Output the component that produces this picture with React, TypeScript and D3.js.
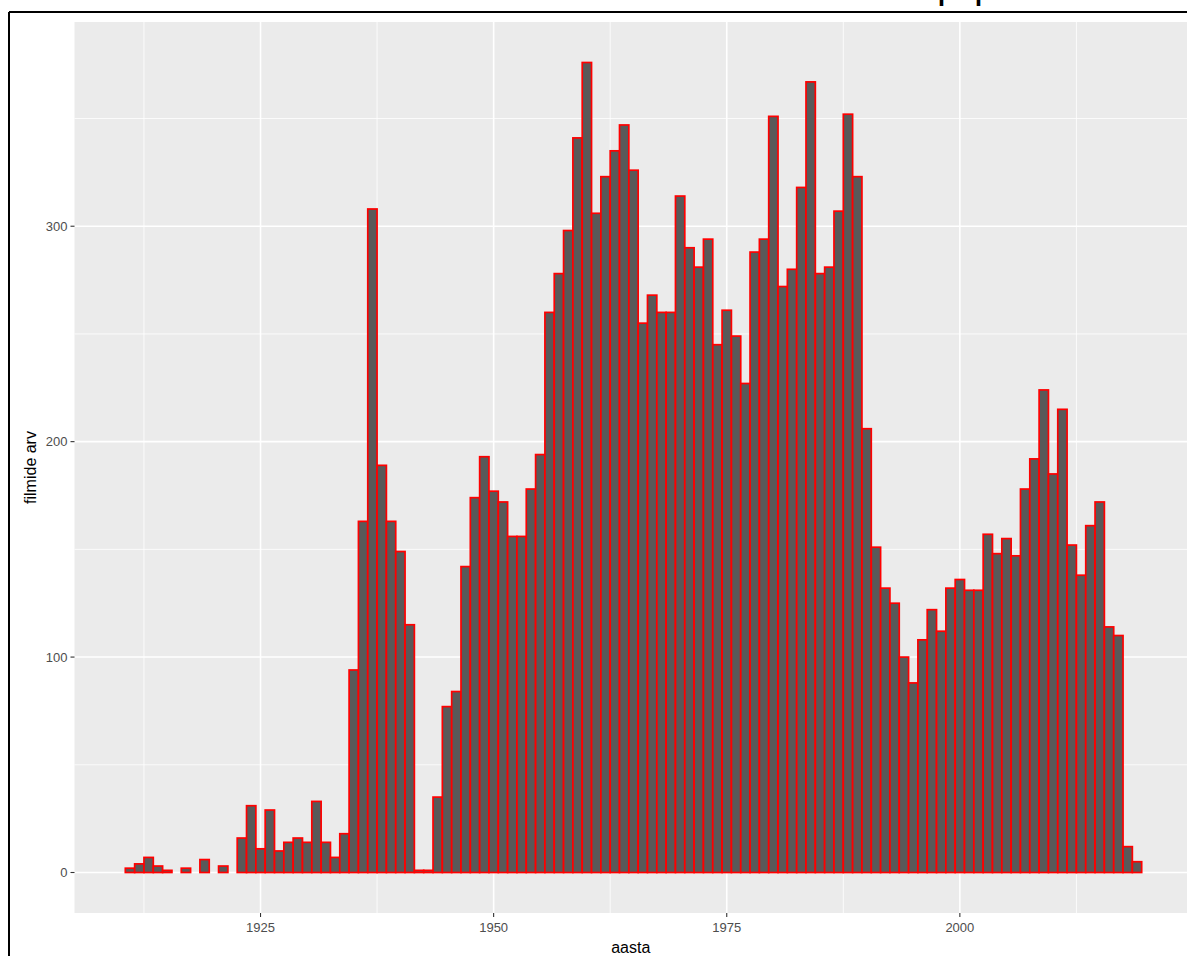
import * as d3 from 'd3';

// films per release year (ggplot histogram, binwidth 1)
const years = [
  1911, 1912, 1913, 1914, 1915, 1917, 1919, 1921,
  1923, 1924, 1925, 1926, 1927, 1928, 1929, 1930, 1931, 1932, 1933, 1934,
  1935, 1936, 1937, 1938, 1939, 1940, 1941, 1942, 1943, 1944,
  1945, 1946, 1947, 1948, 1949, 1950, 1951, 1952, 1953, 1954,
  1955, 1956, 1957, 1958, 1959, 1960, 1961, 1962, 1963, 1964,
  1965, 1966, 1967, 1968, 1969, 1970, 1971, 1972, 1973, 1974,
  1975, 1976, 1977, 1978, 1979, 1980, 1981, 1982, 1983, 1984,
  1985, 1986, 1987, 1988, 1989, 1990, 1991, 1992, 1993, 1994,
  1995, 1996, 1997, 1998, 1999, 2000, 2001, 2002, 2003, 2004,
  2005, 2006, 2007, 2008, 2009, 2010, 2011, 2012, 2013, 2014,
  2015, 2016, 2017, 2018, 2019,
];
const counts = [
  2, 4, 7, 3, 1, 2, 6, 3,
  16, 31, 11, 29, 10, 14, 16, 14, 33, 14, 7, 18,
  94, 163, 308, 189, 163, 149, 115, 1, 1, 35,
  77, 84, 142, 174, 193, 177, 172, 156, 156, 178,
  194, 260, 278, 298, 341, 376, 306, 323, 335, 347,
  326, 255, 268, 260, 260, 314, 290, 281, 294, 245,
  261, 249, 227, 288, 294, 351, 272, 280, 318, 367,
  278, 281, 307, 352, 323, 206, 151, 132, 125, 100,
  88, 108, 122, 112, 132, 136, 131, 131, 157, 148,
  155, 147, 178, 192, 224, 185, 215, 152, 138, 161,
  172, 114, 110, 12, 5,
];
const xTicks = [1925, 1950, 1975, 2000];
const xMinor = [1912.5, 1937.5, 1962.5, 1987.5, 2012.5];
const yTicks = [0, 100, 200, 300];
const yMinor = [50, 150, 250, 350];

const W = 1187;
const H = 956;
const panel = { left: 74.5, right: 1192.5, top: 22, bottom: 913 };
const font = 'Liberation Sans, Arial, Helvetica, sans-serif';

export default function App() {
  const x = d3.scaleLinear().domain([1905.05, 2024.95]).range([panel.left, panel.right]);
  const y = d3.scaleLinear().domain([-18.8, 394.8]).range([panel.bottom, panel.top]);
  const bw = x(1) - x(0);

  return (
    <svg width={W} height={H} style={{ position: 'absolute', left: 0, top: 0, background: '#fff' }}>
      {/* title sits above the visible area, only descenders show */}
      <text x={937} y={-2} fontFamily={font} fontSize={40} fill="#000">p</text>
      <text x={974} y={-2} fontFamily={font} fontSize={40} fill="#000">p</text>

      <rect x={panel.left} y={panel.top} width={panel.right - panel.left} height={panel.bottom - panel.top} fill="#EBEBEB" />

      {yMinor.map(v => (
        <line key={'ym' + v} x1={panel.left} x2={panel.right} y1={y(v)} y2={y(v)} stroke="#fff" strokeWidth={0.8} />
      ))}
      {xMinor.map(v => (
        <line key={'xm' + v} x1={x(v)} x2={x(v)} y1={panel.top} y2={panel.bottom} stroke="#fff" strokeWidth={0.8} />
      ))}
      {yTicks.map(v => (
        <line key={'yg' + v} x1={panel.left} x2={panel.right} y1={y(v)} y2={y(v)} stroke="#fff" strokeWidth={1.6} />
      ))}
      {xTicks.map(v => (
        <line key={'xg' + v} x1={x(v)} x2={x(v)} y1={panel.top} y2={panel.bottom} stroke="#fff" strokeWidth={1.6} />
      ))}

      {years.map((yr, i) => (
        <rect
          key={yr}
          x={x(yr - 0.5)}
          y={y(counts[i])}
          width={bw}
          height={y(0) - y(counts[i])}
          fill="#595959"
          stroke="#FF0000"
          strokeWidth={1.7}
        />
      ))}

      {yTicks.map(v => (
        <g key={'yt' + v}>
          <line x1={panel.left - 4} x2={panel.left} y1={y(v)} y2={y(v)} stroke="#333" strokeWidth={1.1} />
          <text x={panel.left - 7} y={y(v)} dy="0.35em" textAnchor="end" fontFamily={font} fontSize={13} fill="#4D4D4D">{v}</text>
        </g>
      ))}
      {xTicks.map(v => (
        <g key={'xt' + v}>
          <line x1={x(v)} x2={x(v)} y1={panel.bottom} y2={panel.bottom + 4} stroke="#333" strokeWidth={1.1} />
          <text x={x(v)} y={panel.bottom + 19} textAnchor="middle" fontFamily={font} fontSize={13} fill="#4D4D4D">{v}</text>
        </g>
      ))}

      <text x={(panel.left + W) / 2} y={953} textAnchor="middle" fontFamily={font} fontSize={16} fill="#000">aasta</text>
      <text
        transform={`translate(36, ${(panel.top + panel.bottom) / 2}) rotate(-90)`}
        textAnchor="middle"
        fontFamily={font}
        fontSize={16}
        fill="#000"
      >filmide arv</text>

      {/* screenshot frame */}
      <line x1={9} x2={W} y1={12} y2={12} stroke="#000" strokeWidth={2} />
      <line x1={9} x2={9} y1={12} y2={H} stroke="#000" strokeWidth={2} />
    </svg>
  );
}
